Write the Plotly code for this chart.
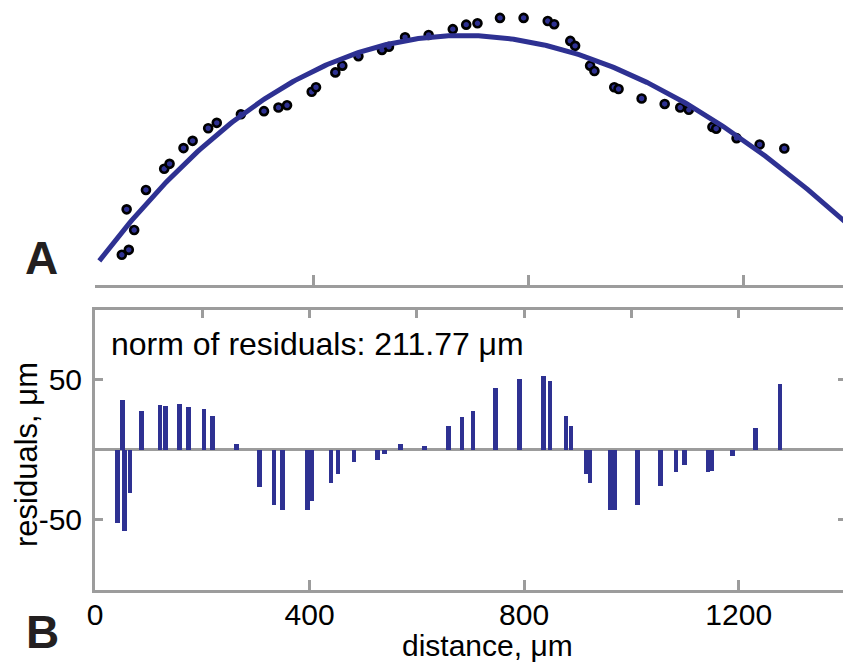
import numpy as np
import plotly.graph_objects as go

# ---- data ----
distance_um = [42, 51, 55, 65, 87, 121, 131, 157, 174, 203, 219, 264, 307, 334, 350,
               396, 404, 440, 453, 483, 527, 540, 570, 614, 659, 684, 705, 747, 791,
               836, 848, 878, 887, 915, 923, 960, 968, 1011, 1054, 1083, 1099, 1143,
               1150, 1188, 1231, 1277]
height_um = [67, 168, 78, 122, 211, 258, 269, 304, 320, 348, 360, 379, 386, 394, 399,
             429, 439, 472, 487, 508, 522, 529, 550, 555, 568, 578, 581, 593, 593,
             586, 579, 542, 531, 487, 475, 439, 435, 414, 402, 394, 389, 351, 347,
             326, 312, 303]
residual_um = [-52, 36, -58, -31, 28, 32, 31.5, 33, 31, 29, 24.5, 4, -26.5, -39, -43,
               -42.5, -36.5, -23.5, -17, -8.5, -7, -3, 4, 3, 17, 23.5, 28, 44.5, 51,
               53, 49, 24, 17, -17, -23.5, -42.5, -43, -39.5, -26, -16, -10.5, -16,
               -15, -4.5, 16, 47.5]
norm_text = "norm of residuals: 211.77 \u03bcm"
x_ticks_bottom = [0, 400, 800, 1200]
x_ticks_top_panel = [400, 800, 1200]
x_ticks_box_top = [200, 400, 600, 800, 1000, 1200]
y_ticks = [-50, 50]
y_tick_text = ["-50", "50"]

# ---- fit (as in the original basic fitting) ----
coef = np.polyfit(distance_um, height_um, 3)
x_fit = np.linspace(0, 1400, 300)
y_fit = np.polyval(coef, x_fit)

BLUE = "#2E3192"
GRAY = "#9C9C9C"
FONT = "Arial, Liberation Sans, Helvetica, sans-serif"
OFF = 8                      # page body margin of the html page
W, H = 851 - OFF, 669 - OFF
L, R = 95 - OFF, 5
plot_w = W - L - R

def py(p):  # reference pixel y -> paper y
    return (H - (p - OFF)) / H

def px(p):  # reference pixel x -> paper x
    return (p - OFF - L) / plot_w

fig = go.Figure()

# top panel: data points + fit
fig.add_trace(go.Scatter(x=distance_um, y=height_um, mode="markers",
                         marker=dict(symbol="circle", size=8, color=BLUE,
                                     line=dict(color="black", width=2.6)),
                         xaxis="x2", yaxis="y2", showlegend=False))
fig.add_trace(go.Scatter(x=x_fit, y=y_fit, mode="lines",
                         line=dict(color=BLUE, width=5),
                         xaxis="x2", yaxis="y2", showlegend=False))

# bottom panel: residual stems
fig.add_trace(go.Bar(x=distance_um, y=residual_um, width=8.5,
                     marker=dict(color=BLUE, line=dict(width=0)),
                     xaxis="x", yaxis="y", showlegend=False))
# carrier for the top-edge tick axis of the residual box
fig.add_trace(go.Scatter(x=[], y=[], xaxis="x3", yaxis="y", showlegend=False))

bottom_dom = [py(589.5), py(309.5)]
top_dom = [py(285), 1.0]

fig.update_layout(
    width=W, height=H,
    margin=dict(l=L, r=R, t=0, b=0),
    paper_bgcolor="white", plot_bgcolor="white",
    showlegend=False,
    bargap=0,
    font=dict(family=FONT, size=30, color="black"),
    xaxis=dict(domain=[0, 1], range=[0, 1400], anchor="y",
               showline=True, linecolor=GRAY, linewidth=3, mirror=True,
               ticks="inside", ticklen=10, tickwidth=3, tickcolor=GRAY,
               tickvals=x_ticks_bottom, ticktext=[str(v) for v in x_ticks_bottom],
               tickfont=dict(size=30, family=FONT, color="black"),
               ticklabelstandoff=-4,
               showgrid=False, zeroline=False, automargin=False, fixedrange=True),
    xaxis3=dict(overlaying="x", side="top", anchor="y", range=[0, 1400],
                showline=False, ticks="inside", ticklen=8, tickwidth=3,
                tickcolor=GRAY, tickvals=x_ticks_box_top, showticklabels=False,
                showgrid=False, zeroline=False, automargin=False),
    yaxis=dict(domain=bottom_dom, range=[-100, 100], anchor="x",
               showline=True, linecolor=GRAY, linewidth=3, mirror="ticks",
               ticks="inside", ticklen=8, tickwidth=3, tickcolor=GRAY,
               tickvals=y_ticks, ticktext=y_tick_text,
               tickfont=dict(size=30, family=FONT, color="black"),
               ticklabelstandoff=4,
               showgrid=False, zeroline=True, zerolinecolor=GRAY, zerolinewidth=2.5,
               automargin=False),
    xaxis2=dict(domain=[0, 1], range=[-8, 1392], anchor="y2",
                showline=True, linecolor=GRAY, linewidth=3,
                ticks="inside", ticklen=10, tickwidth=3, tickcolor=GRAY,
                tickvals=[-8] + x_ticks_top_panel, showticklabels=False,
                showgrid=False, zeroline=False, automargin=False),
    yaxis2=dict(domain=top_dom, range=[0, 615], anchor="x2", visible=False,
                showgrid=False, zeroline=False),
)

annotations = [
    dict(text="<b>A</b>", x=px(41), y=py(258), xref="paper", yref="paper",
         xanchor="center", yanchor="middle", showarrow=False,
         font=dict(size=46, family=FONT, color="#231F20")),
    dict(text="<b>B</b>", x=px(42.5), y=py(632), xref="paper", yref="paper",
         xanchor="center", yanchor="middle", showarrow=False,
         font=dict(size=46, family=FONT, color="#231F20")),
    dict(text=norm_text, x=px(109), y=py(344), xref="paper", yref="paper",
         xanchor="left", yanchor="middle", showarrow=False,
         font=dict(size=32, family=FONT, color="black")),
    dict(text="residuals, \u03bcm", x=px(27), y=py(455), xref="paper", yref="paper",
         xanchor="center", yanchor="middle", textangle=-90, showarrow=False,
         font=dict(size=31, family=FONT, color="black")),
    dict(text="distance, \u03bcm", x=px(488), y=py(645), xref="paper", yref="paper",
         xanchor="center", yanchor="middle", showarrow=False,
         font=dict(size=30, family=FONT, color="black")),
]
fig.update_layout(annotations=annotations)

fig.write_html("out.html")
